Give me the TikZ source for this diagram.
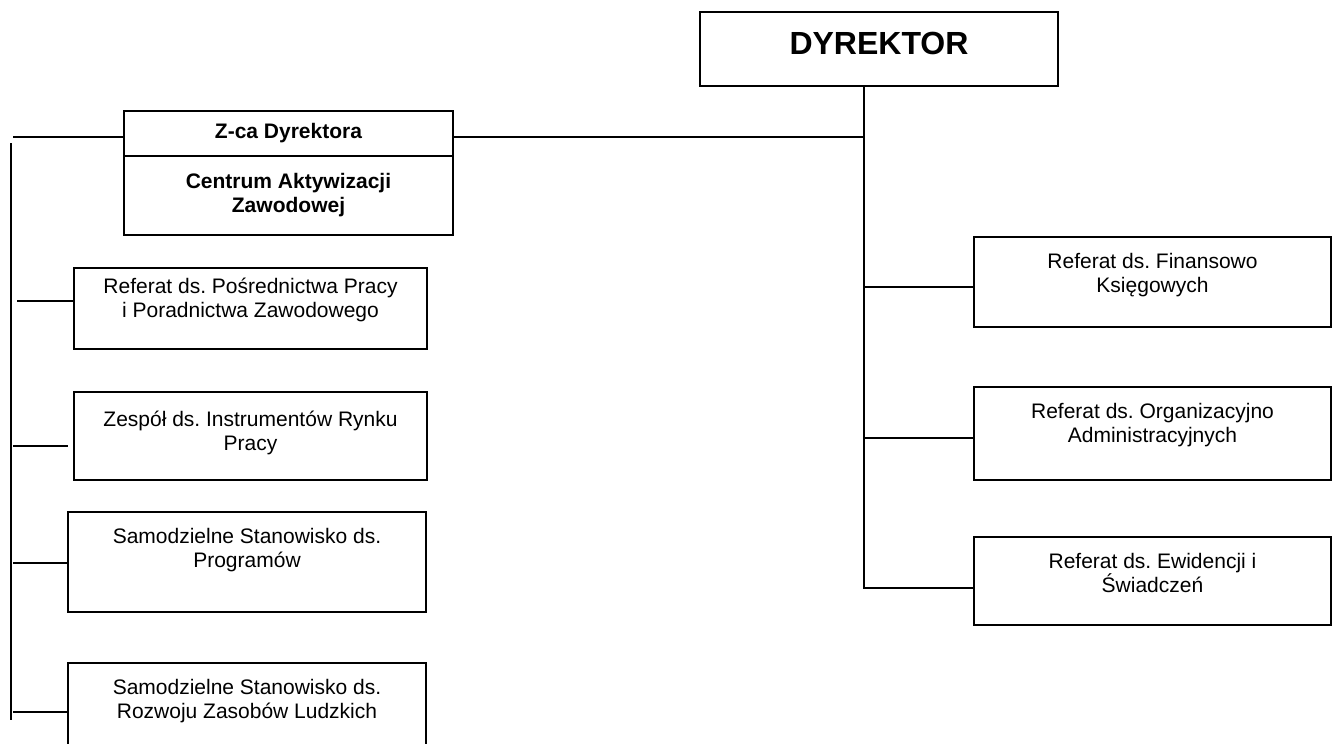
\documentclass[tikz,border=0pt]{standalone}
\usepackage{fontspec}
\setmainfont{Liberation Sans}
\usepackage{tikz}
\usetikzlibrary{positioning, calc}
\frenchspacing

\begin{document}
\begin{tikzpicture}[x=1pt, y=-1pt, line width=1.8pt,
    unit/.style n args={3}{draw, anchor=north west, inner sep=0pt, outer sep=0pt,
      execute at begin node={\begin{minipage}[t][#2pt][t]{#1pt}\fontsize{21}{24}\selectfont\frenchspacing\centering\vspace*{#3pt}},
      execute at end node={\end{minipage}}},
    head/.style={draw, anchor=north west, align=center, inner sep=0pt, outer sep=0pt,
      font=\fontsize{21}{24}\selectfont\bfseries}]
        \useasboundingbox (0,0) rectangle (1339,744);
        \clip (0,0) rectangle (1339,744);
        \node[head, font=\fontsize{32}{36}\selectfont\bfseries, minimum width=358, minimum height=74, text depth=11pt] (dyr) at (700,12) {DYREKTOR};
        \node[head, minimum width=329, minimum height=45] (zca) at (124,111) {Z-ca Dyrektora};
        \node[head, minimum width=329, minimum height=79, below=0pt of zca] (caz) {Centrum Aktywizacji\\Zawodowej};
        \node[unit={353}{81}{10}] (posr) at (74,268) {Referat ds. Pośrednictwa Pracy\\i Poradnictwa Zawodowego};
        \node[unit={353}{88}{19}] (zesp) at (74,392) {Zespół ds. Instrumentów Rynku\\Pracy};
        \node[unit={358}{100}{16}] (prog) at (68,512) {Samodzielne Stanowisko ds.\\Programów};
        \node[unit={358}{100}{16}] (rozw) at (68,663) {Samodzielne Stanowisko ds.\\Rozwoju Zasobów Ludzkich};
        \node[unit={357}{90}{16}] (fin) at (974,237) {Referat ds. Finansowo\\Księgowych};
        \node[unit={357}{93}{16}] (org) at (974,387) {Referat ds. Organizacyjno\\Administracyjnych};
        \node[unit={357}{88}{16}] (ewid) at (974,537) {Referat ds. Ewidencji i\\Świadczeń};
        \coordinate (jz) at (864,137);
        \coordinate (jf) at (864,287);
        \coordinate (jo) at (864,438);
        \coordinate (je) at (864,588);
        \draw (dyr.south -| jz) -- (je) -- (je -| ewid.west);
        \draw (jz) -- (jz -| zca.east);
        \draw (jf) -- (jf -| fin.west);
        \draw (jo) -- (jo -| org.west);
        \coordinate (zl) at (13,137);
        \coordinate (lt) at (11,143);
        \coordinate (lb) at (11,720);
        \coordinate (lp) at (17,301);
        \coordinate (lz) at (13,446);
        \coordinate (lg) at (13,563);
        \coordinate (lr) at (13,712);
        \draw (zl) -- (zl -| zca.west);
        \draw (lt) -- (lb);
        \draw (lp) -- (lp -| posr.west);
        \draw (lz) -- ([xshift=-6pt]lz -| zesp.west);
        \draw (lg) -- (lg -| prog.west);
        \draw (lr) -- (lr -| rozw.west);
    \end{tikzpicture}
\end{document}
